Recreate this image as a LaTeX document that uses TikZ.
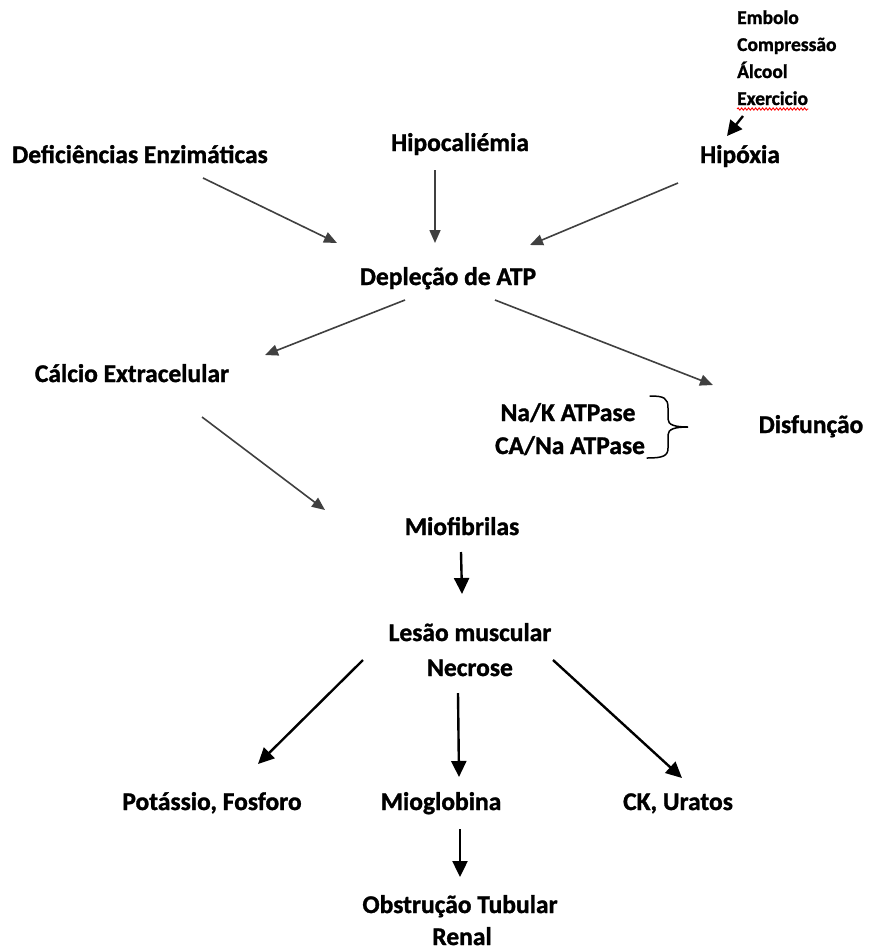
\documentclass[tikz,border=0pt]{standalone}
\usepackage{fontspec}
\setmainfont{Carlito}[BoldFeatures={FakeBold=1.2}]
\usetikzlibrary{arrows.meta,decorations.pathmorphing}
\definecolor{arrowgray}{HTML}{404040}
\tikzset{
  txt/.style={inner sep=0pt, anchor=base, font=\fontsize{25.5}{34}\selectfont\bfseries, text=black},
  smalltxt/.style={inner sep=0pt, font=\fontsize{19.5}{24}\selectfont\bfseries, text=black, anchor=base west},
  grayarrow/.style={draw=arrowgray, line width=1.6pt, -{Triangle[length=13pt,width=11pt]}, arrowgray},
  blackarrow/.style={draw=black, line width=2.4pt, -{Triangle[length=16pt,width=15pt]}},
}
\begin{document}
\begin{tikzpicture}[x=1pt,y=-1pt]
\useasboundingbox (0,0) rectangle (868,951);
\fill[white] (0,0) rectangle (868,951);

% small cause list
\node[smalltxt] (e1) at (737,24) {Embolo};
\node[smalltxt] (e2) at (737,51) {Compressão};
\node[smalltxt] (e3) at (737,78) {Álcool};
\node[smalltxt] (e4) at (737,105) {Exercicio};
\draw[red, line width=0.9pt, decorate, decoration={snake, amplitude=1.1pt, segment length=3.5pt}]
  ([yshift=-4pt]e4.base west) -- ([yshift=-4pt]e4.base east);

% main nodes
\node[txt] (def) at (140,163) {Deficiências Enzimáticas};
\node[txt] (hipocal) at (460,151) {Hipocaliémia};
\node[txt] (hipox) at (740,163) {Hipóxia};
\node[txt] (atp) at (448,285) {Depleção de ATP};
\node[txt] (calcio) at (132,382) {Cálcio Extracelular};
\node[txt] (nak) at (568,421) {Na/K ATPase};
\node[txt] (cana) at (570,454) {CA/Na ATPase};
\node[txt] (disf) at (811,433) {Disfunção};
\node[txt] (miof) at (462,535) {Miofibrilas};
\node[txt] (lesao) at (470,641) {Lesão muscular};
\node[txt] (necrose) at (470,676) {Necrose};
\node[txt] (pot) at (212,810) {Potássio, Fosforo};
\node[txt] (mio) at (441,810) {Mioglobina};
\node[txt] (ck) at (678,810) {CK, Uratos};
\node[txt] (obst) at (460,913) {Obstrução Tubular};
\node[txt] (renal) at (462,945) {Renal};

% brace
\draw[black, line width=1.5pt, line cap=round]
  (650,396) .. controls (664,396) and (668,398) .. (668,408) -- (668,419)
  .. controls (668,425) and (675,427) .. (688,427)
  .. controls (675,427) and (668,429) .. (668,435) -- (668,448)
  .. controls (668,456) and (663,458) .. (647,458);

% arrows
\draw[blackarrow, -{Triangle[length=15pt,width=15pt]}]
  ([shift={(6,11)}]e4.base west) -- ([shift={(-13,-27)}]hipox.base);
\draw[grayarrow] ([shift={(63,15)}]def.base) -- ([shift={(-111,-42)}]atp.base);
\draw[grayarrow] ([shift={(-25,19)}]hipocal.base) -- ([shift={(-13,-42)}]atp.base);
\draw[grayarrow] ([shift={(-62,20)}]hipox.base) -- ([shift={(82,-40)}]atp.base);
\draw[grayarrow] ([shift={(-43,15)}]atp.base) -- ([shift={(133,-27)}]calcio.base);
\draw[grayarrow] ([shift={(47,15)}]atp.base) -- ([shift={(-98,-48)}]disf.base);
\draw[grayarrow] ([shift={(70,35)}]calcio.base) -- ([shift={(-137,-25)}]miof.base);

\draw[blackarrow] ([shift={(-1,17)}]miof.base) -- ([shift={(-8,-47)}]lesao.base);
\draw[blackarrow] ([shift={(-107,-16)}]necrose.base) -- ([shift={(46,-46)}]pot.base);
\draw[blackarrow] ([shift={(-12,17)}]necrose.base) -- ([shift={(18,-33)}]mio.base);
\draw[blackarrow] ([shift={(83,-16)}]necrose.base) -- ([shift={(4,-32)}]ck.base);
\draw[blackarrow] ([shift={(19,19)}]mio.base) -- ([shift={(0,-36)}]obst.base);
\end{tikzpicture}
\end{document}
